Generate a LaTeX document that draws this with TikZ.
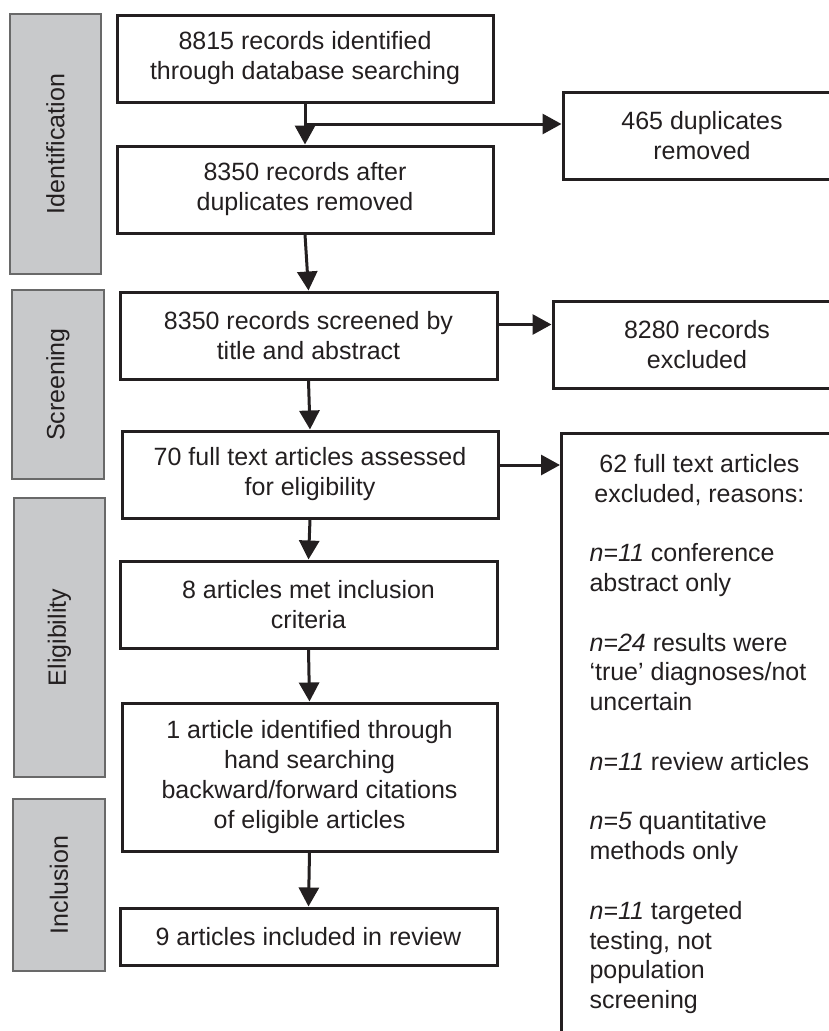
\documentclass[tikz,border=0pt]{standalone}
\usepackage{fontspec}
\setmainfont{Liberation Sans}
\usetikzlibrary{arrows.meta}

\definecolor{inkgray}{RGB}{35,31,32}
\definecolor{phasefill}{RGB}{200,201,203}
\definecolor{phaseline}{RGB}{105,105,105}

\tikzset{
	stagebox/.style={draw=inkgray, line width=3pt, align=center, text=inkgray,
		font=\fontsize{25}{30}\selectfont, inner sep=0pt},
	phase/.style={draw=phaseline, line width=1.5pt, fill=phasefill, rotate=90,
		text=inkgray, font=\fontsize{25}{30}\selectfont, inner sep=0pt},
	flow/.style={draw=inkgray, line width=3pt, -{Triangle[length=19pt,width=20pt]}}
}

\begin{document}
\begin{tikzpicture}[x=1pt, y=-1pt]
	\useasboundingbox (0,0) rectangle (829,1031);
	\clip (0,0) rectangle (829,1031);

	% phases on the left
	\node[phase, minimum width=260, minimum height=91] (pident) at (55.5,144) {Identification};
	\node[phase, minimum width=189, minimum height=92] (pscreen) at (58,384.5) {Screening};
	\node[phase, minimum width=279, minimum height=91] (pelig) at (59.5,637.5) {Eligibility};
	\node[phase, minimum width=172, minimum height=92] (pincl) at (59,885) {Inclusion};

	% main column
	\node[stagebox, minimum width=376, minimum height=87] (records) at (305,58.5)
		{8815 records identified\\through database searching};
	\node[stagebox, minimum width=376, minimum height=87] (dedup) at (305,189.5)
		{8350 records after\\duplicates removed};
	\node[stagebox, minimum width=377, minimum height=87] (screened) at (308.5,335.5)
		{8350 records screened by\\title and abstract};
	\node[stagebox, minimum width=376, minimum height=87] (fulltext) at (310,474.5)
		{70 full text articles assessed\\for eligibility};
	\node[stagebox, minimum width=377, minimum height=87] (met) at (308.5,604.5)
		{8 articles met inclusion\\criteria};
	\node[stagebox, minimum width=375, minimum height=148] (hand) at (309.5,777)
		{1 article identified through\\hand searching\\backward/forward citations\\of eligible articles};
	\node[stagebox, minimum width=377, minimum height=57] (included) at (308.5,936.5)
		{9 articles included in review};

	% excluded on the right
	\node[stagebox, minimum width=278, minimum height=87] (dups) at (702,135.5)
		{465 duplicates\\removed};
	\node[stagebox, minimum width=288, minimum height=87] (excl) at (697,344.5)
		{8280 records\\excluded};
	\node[stagebox, anchor=north west, minimum width=274, inner xsep=28pt, inner ysep=18pt,
		font=\fontsize{25}{29.8}\selectfont, text depth=640pt] (ftexcl) at (560,432)
		{\begin{tabular}[t]{@{}l@{}}
			\multicolumn{1}{@{}c@{}}{62 full text articles}\\
			\multicolumn{1}{@{}c@{}}{excluded, reasons:}\\
			\\
			\textit{n=11} conference\\
			abstract only\\
			\\
			\textit{n=24} results were\\
			`true' diagnoses/not\\
			uncertain\\
			\\
			\textit{n=11} review articles\\
			\\
			\textit{n=5} quantitative\\
			methods only\\
			\\
			\textit{n=11} targeted\\
			testing, not\\
			population\\
			screening
		\end{tabular}};

	% arrows
	\coordinate (split) at (305,124);
	\draw[flow] (records.south) -- (dedup.north);
	\draw[flow] (split) -- (split -| dups.west);
	\draw[flow] (dedup.south) -- (screened.north);
	\draw[flow] (screened.south) -- (fulltext.north);
	\draw[flow] ([yshift=11pt]screened.east) -- ([yshift=11pt]screened.east -| excl.west);
	\draw[flow] (fulltext.south) -- (met.north);
	\draw[flow] ([yshift=9.5pt]fulltext.east) -- ([yshift=9.5pt]fulltext.east -| ftexcl.west);
	\draw[flow] (met.south) -- (hand.north);
	\draw[flow] (hand.south) -- (included.north);
\end{tikzpicture}
\end{document}
